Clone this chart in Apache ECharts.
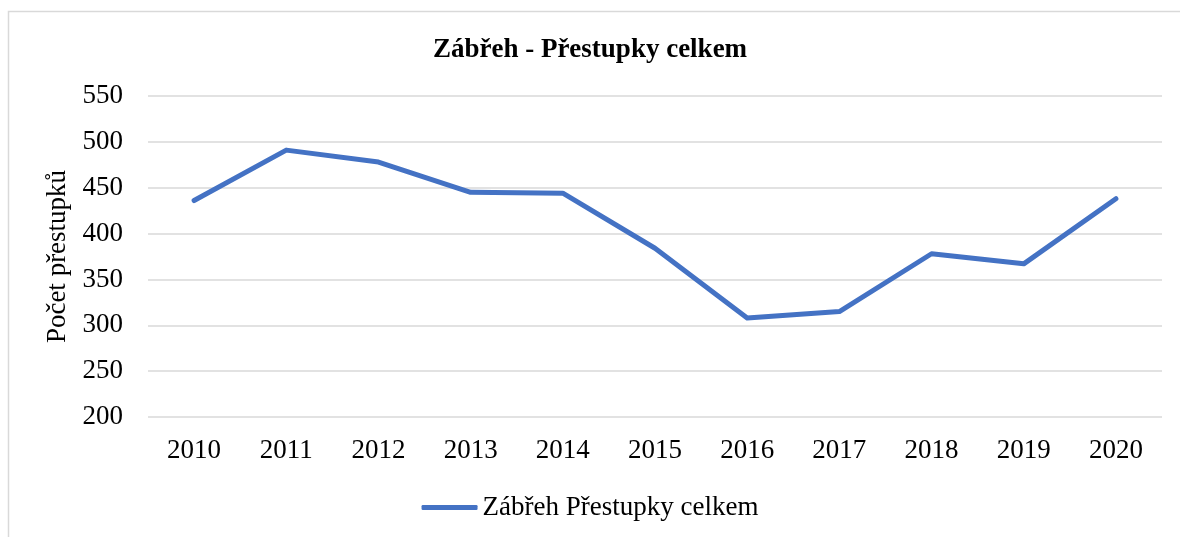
<!DOCTYPE html>
<html>
<head>
<meta charset="utf-8">
<script src="https://cdn.jsdelivr.net/npm/echarts@6/dist/echarts.min.js"></script>
<style>
  html, body { margin: 0; padding: 0; background: #fff; }
  #chart { width: 1180px; height: 537px; }
</style>
</head>
<body>
<div id="chart"></div>
<script>
const years = ["2010", "2011", "2012", "2013", "2014", "2015", "2016", "2017", "2018", "2019", "2020"];
const prestupky = [436, 491, 478, 445, 444, 384, 308, 315, 378, 367, 438];
const seriesName = "Zábřeh Přestupky celkem";
const chartTitle = "Zábřeh - Přestupky celkem";
const yAxisTitle = "Počet přestupků";

const serif = "'Liberation Serif', 'Times New Roman', serif";
const chart = echarts.init(document.getElementById("chart"));

chart.setOption({
  animation: false,
  textStyle: { fontFamily: serif },
  graphic: [
    {
      type: "rect",
      shape: { x: 8.5, y: 11.5, width: 1200, height: 600 },
      style: { fill: "none", stroke: "#d9d9d9", lineWidth: 1.5 },
      silent: true
    }
  ],
  title: {
    text: chartTitle,
    left: "center",
    top: 32,
    textStyle: { fontFamily: serif, fontSize: 27, fontWeight: "bold", color: "#000" }
  },
  grid: { left: 148, right: 18, top: 96, bottom: 120 },
  legend: {
    bottom: 11,
    left: "center",
    icon: "roundRect",
    itemWidth: 56,
    itemHeight: 5,
    textStyle: { fontFamily: serif, fontSize: 27, color: "#000" },
    data: [seriesName]
  },
  xAxis: {
    type: "category",
    data: years,
    boundaryGap: true,
    axisLine: { show: false },
    axisTick: { show: false },
    axisLabel: { fontFamily: serif, fontSize: 27, color: "#000", margin: 20 }
  },
  yAxis: {
    type: "value",
    min: 200,
    max: 550,
    interval: 50,
    name: yAxisTitle,
    nameLocation: "middle",
    nameGap: 75,
    nameTextStyle: { fontFamily: serif, fontSize: 27, color: "#000" },
    axisLine: { show: false },
    axisTick: { show: false },
    axisLabel: { fontFamily: serif, fontSize: 27, color: "#000", margin: 25 },
    splitLine: { lineStyle: { color: "#d9d9d9", width: 1.5 } }
  },
  series: [
    {
      name: seriesName,
      type: "line",
      data: prestupky,
      showSymbol: false,
      symbol: "none",
      lineStyle: { color: "#4472c4", width: 5, cap: "round", join: "round" },
      itemStyle: { color: "#4472c4" }
    }
  ]
});
</script>
</body>
</html>
